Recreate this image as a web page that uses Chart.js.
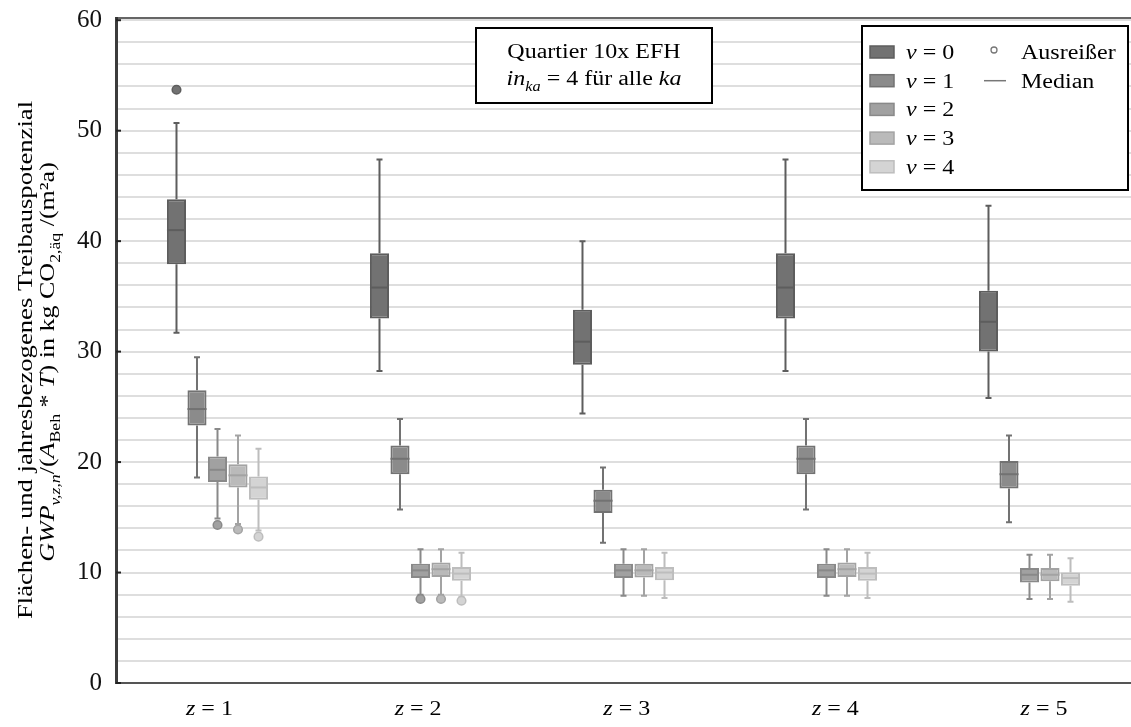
<!DOCTYPE html>
<html><head><meta charset="utf-8">
<script src="https://cdn.jsdelivr.net/npm/chart.js@4.4.1/dist/chart.umd.min.js"></script>
<style>html,body{margin:0;padding:0;background:#fff;overflow:hidden}</style>
</head><body>
<canvas id="c" width="1131" height="727"></canvas>
<script>
// ---------- data ----------
const zValues = [1, 2, 3, 4, 5];
const xTickLabels = ['1', '2', '3', '4', '5'];
const vLabels = ['0', '1', '2', '3', '4'];
const yLabelStep = 10;
const yGridStep = 2;

// rows: v = 0..4, columns: z = 1..5
const whiskerHigh = [
  [50.7, 47.4, 40.0, 47.4, 43.2],
  [29.5, 23.9, 19.5, 23.9, 22.4],
  [23.0, 12.1, 12.1, 12.1, 11.6],
  [22.4, 12.1, 12.1, 12.1, 11.6],
  [21.2, 11.8, 11.8, 11.8, 11.3]
];
const q3 = [
  [43.8, 38.9, 33.8, 38.9, 35.5],
  [26.5, 21.5, 17.5, 21.5, 20.1],
  [20.5, 10.8, 10.8, 10.8, 10.4],
  [19.8, 10.9, 10.8, 10.9, 10.4],
  [18.7, 10.5, 10.5, 10.5, 10.0]
];
const median = [
  [41.0, 35.8, 30.9, 35.8, 32.7],
  [24.8, 20.3, 16.5, 20.3, 18.9],
  [19.3, 10.2, 10.2, 10.2, 9.8],
  [18.8, 10.3, 10.2, 10.3, 9.8],
  [17.7, 9.9, 10.0, 9.9, 9.5]
];
const q1 = [
  [37.9, 33.0, 28.8, 33.0, 30.0],
  [23.3, 18.9, 15.4, 18.9, 17.6],
  [18.2, 9.5, 9.5, 9.5, 9.1],
  [17.7, 9.6, 9.55, 9.6, 9.2],
  [16.6, 9.25, 9.3, 9.25, 8.8]
];
const whiskerLow = [
  [31.7, 28.25, 24.4, 28.25, 25.8],
  [18.6, 15.7, 12.7, 15.7, 14.55],
  [14.9, 8.0, 7.9, 7.9, 7.6],
  [14.4, 8.0, 7.9, 7.9, 7.6],
  [13.8, 7.8, 7.7, 7.7, 7.35]
];
const outliers = [
  [[53.7], [], [], [], []],
  [[], [], [], [], []],
  [[14.3], [7.6], [], [], []],
  [[13.9], [7.6], [], [], []],
  [[13.25], [7.45], [], [], []]
];

// ---------- styles ----------
const fillColors = ['#727272', '#8b8b8b', '#a1a1a1', '#bababa', '#d4d4d4'];
const lineColors = ['#5d5d5d', '#727272', '#898989', '#a3a3a3', '#bdbdbd'];
const FONT = 'Liberation Serif';
const SX = 1.2;

function drawRich(ctx, segs, x, y, opt) {
  const size = opt.size, sx = opt.sx || 1;
  const fontFor = s => `${s.i ? 'italic ' : ''}${s.sub ? size * 0.68 : size}px "${FONT}"`;
  let w = 0;
  segs.forEach(s => { ctx.font = fontFor(s); s._w = ctx.measureText(s.t).width; w += s._w; });
  ctx.save();
  ctx.translate(x, y);
  ctx.scale(sx, 1);
  let cx = opt.align === 'center' ? -w / 2 : (opt.align === 'right' ? -w : 0);
  ctx.textAlign = 'left';
  ctx.textBaseline = 'alphabetic';
  ctx.fillStyle = opt.color || '#000';
  segs.forEach(s => {
    ctx.font = fontFor(s);
    ctx.fillText(s.t, cx, s.sub ? size * 0.28 : 0);
    cx += s._w;
  });
  ctx.restore();
}

const boxPlugin = {
  id: 'boxExtras',
  beforeDatasetsDraw(chart) {
    const ctx = chart.ctx, y = chart.scales.y;
    chart.data.datasets.forEach((ds, v) => {
      const meta = chart.getDatasetMeta(v);
      meta.data.forEach((el, i) => {
        const x = el.x;
        ctx.save();
        ctx.strokeStyle = lineColors[v];
        ctx.lineWidth = 2;
        ctx.beginPath();
        ctx.moveTo(x, y.getPixelForValue(whiskerHigh[v][i]));
        ctx.lineTo(x, y.getPixelForValue(q3[v][i]));
        ctx.moveTo(x, y.getPixelForValue(q1[v][i]));
        ctx.lineTo(x, y.getPixelForValue(whiskerLow[v][i]));
        const cw = 3;
        [whiskerHigh[v][i], whiskerLow[v][i]].forEach(val => {
          const py = y.getPixelForValue(val);
          ctx.moveTo(x - cw, py); ctx.lineTo(x + cw, py);
        });
        ctx.stroke();
        ctx.restore();
      });
    });
  },
  afterDatasetsDraw(chart) {
    const ctx = chart.ctx, y = chart.scales.y;
    chart.data.datasets.forEach((ds, v) => {
      const meta = chart.getDatasetMeta(v);
      meta.data.forEach((el, i) => {
        const x = el.x, hw = el.width / 2;
        ctx.save();
        ctx.strokeStyle = lineColors[v];
        ctx.lineWidth = 2;
        const my = y.getPixelForValue(median[v][i]);
        ctx.beginPath();
        ctx.moveTo(x - hw, my); ctx.lineTo(x + hw, my);
        ctx.stroke();
        outliers[v][i].forEach(val => {
          ctx.beginPath();
          ctx.arc(x, y.getPixelForValue(val), 4.3, 0, Math.PI * 2);
          ctx.fillStyle = fillColors[v];
          ctx.fill();
          ctx.lineWidth = 1.5;
          ctx.stroke();
        });
        ctx.restore();
      });
    });
  },
  afterDraw(chart) {
    const ctx = chart.ctx, ca = chart.chartArea;
    // top frame line
    ctx.save();
    ctx.strokeStyle = '#333';
    ctx.lineWidth = 1.5;
    ctx.beginPath();
    ctx.moveTo(ca.left, ca.top); ctx.lineTo(ca.right, ca.top);
    ctx.stroke();
    // small dark tick stubs inside the plot at labelled values
    ctx.strokeStyle = '#222';
    ctx.lineWidth = 2;
    for (let v = 0; v <= 60; v += yLabelStep) {
      const py = chart.scales.y.getPixelForValue(v);
      ctx.beginPath(); ctx.moveTo(ca.left, py); ctx.lineTo(ca.left + 5, py); ctx.stroke();
    }
    ctx.restore();

    // x labels
    const xl = chart.scales.xl;
    zValues.forEach((z, i) => {
      drawRich(ctx, [{ t: 'z', i: true }, { t: ' = ' + xTickLabels[i] }],
        xl.getPixelForValue(z), 715, { size: 20, sx: SX, align: 'center' });
    });

    // y title
    ctx.save();
    ctx.translate(32, 360);
    ctx.rotate(-Math.PI / 2);
    drawRich(ctx, [{ t: 'Flächen- und jahresbezogenes Treibauspotenzial' }], 0, 0,
      { size: 21, sx: 1.27, align: 'center' });
    ctx.restore();
    ctx.save();
    ctx.translate(54, 362);
    ctx.rotate(-Math.PI / 2);
    drawRich(ctx, [
      { t: 'GWP', i: true }, { t: 'v,z,n', i: true, sub: true }, { t: '/(' },
      { t: 'A', i: true }, { t: 'Beh', sub: true }, { t: ' * ' }, { t: 'T', i: true },
      { t: ') in kg CO' }, { t: '2,äq', sub: true }, { t: ' /(m²a)' }
    ], 0, 0, { size: 21, sx: 1.24, align: 'center' });
    ctx.restore();

    // title box
    ctx.save();
    ctx.fillStyle = '#fff';
    ctx.fillRect(476, 28, 236, 75);
    ctx.strokeStyle = '#000';
    ctx.lineWidth = 2;
    ctx.strokeRect(476, 28, 236, 75);
    ctx.restore();
    drawRich(ctx, [{ t: 'Quartier 10x EFH' }], 594, 58, { size: 20, sx: SX, align: 'center' });
    drawRich(ctx, [{ t: 'in', i: true }, { t: 'ka', i: true, sub: true }, { t: ' = 4 für alle ' }, { t: 'ka', i: true }],
      594, 85, { size: 20, sx: SX, align: 'center' });

    // legend
    ctx.save();
    ctx.fillStyle = '#fff';
    ctx.fillRect(862, 26, 266, 164);
    ctx.strokeStyle = '#000';
    ctx.lineWidth = 2;
    ctx.strokeRect(862, 26, 266, 164);
    ctx.restore();
    vLabels.forEach((lab, v) => {
      const cy = 52 + v * 28.7;
      ctx.save();
      ctx.fillStyle = fillColors[v];
      ctx.fillRect(870, cy - 6, 24, 12);
      ctx.strokeStyle = lineColors[v];
      ctx.lineWidth = 1.5;
      ctx.strokeRect(870, cy - 6, 24, 12);
      ctx.restore();
      drawRich(ctx, [{ t: 'v', i: true }, { t: ' = ' + lab }], 906, cy + 7, { size: 20, sx: SX, align: 'left' });
    });
    ctx.save();
    ctx.strokeStyle = '#777';
    ctx.lineWidth = 1.3;
    ctx.beginPath(); ctx.arc(994, 50, 3, 0, Math.PI * 2); ctx.stroke();
    ctx.lineWidth = 1.5;
    ctx.beginPath(); ctx.moveTo(984, 80.7); ctx.lineTo(1006, 80.7); ctx.stroke();
    ctx.restore();
    drawRich(ctx, [{ t: 'Ausreißer' }], 1021, 59, { size: 20, sx: SX, align: 'left' });
    drawRich(ctx, [{ t: 'Median' }], 1021, 88, { size: 20, sx: SX, align: 'left' });
  }
};

const datasets = vLabels.map((lab, v) => ({
  label: 'v = ' + lab,
  data: zValues.map((z, i) => [q1[v][i], q3[v][i]]),
  backgroundColor: fillColors[v],
  borderColor: lineColors[v],
  borderWidth: 2,
  borderSkipped: false,
  categoryPercentage: 0.505,
  barPercentage: 0.93,
  xAxisID: 'x',
  yAxisID: 'y'
}));

new Chart(document.getElementById('c'), {
  type: 'bar',
  data: { labels: zValues.map(String), datasets },
  options: {
    responsive: false,
    animation: false,
    devicePixelRatio: 1,
    layout: { padding: { top: 18, right: 0, bottom: 0, left: 0 } },
    plugins: { legend: { display: false }, tooltip: { enabled: false } },
    scales: {
      x: { type: 'category', display: false },
      xl: {
        type: 'linear', position: 'bottom', min: 0.552, max: 5.417,
        offset: false,
        grid: { display: false, drawTicks: false, offset: false },
        border: { color: '#555', width: 2 },
        ticks: { display: false },
        afterFit: s => { s.height = 44; s.paddingLeft = 0; s.paddingRight = 0; }
      },
      y: {
        min: 0, max: 60.2,
        afterBuildTicks: s => {
          const t = [];
          for (let v = 0; v <= 60; v += yGridStep) t.push({ value: v });
          s.ticks = t;
        },
        ticks: {
          autoSkip: false,
          callback: val => (val % yLabelStep === 0 ? String(val) : ''),
          font: { family: FONT, size: 25 },
          color: '#111',
          padding: 14
        },
        grid: { color: '#dedede', lineWidth: 2, drawTicks: false },
        border: { color: '#3c3c3c', width: 3 },
        afterFit: s => { s.width = 116; s.paddingTop = 0; s.paddingBottom = 0; }
      }
    }
  },
  plugins: [boxPlugin]
});
</script>
</body></html>
